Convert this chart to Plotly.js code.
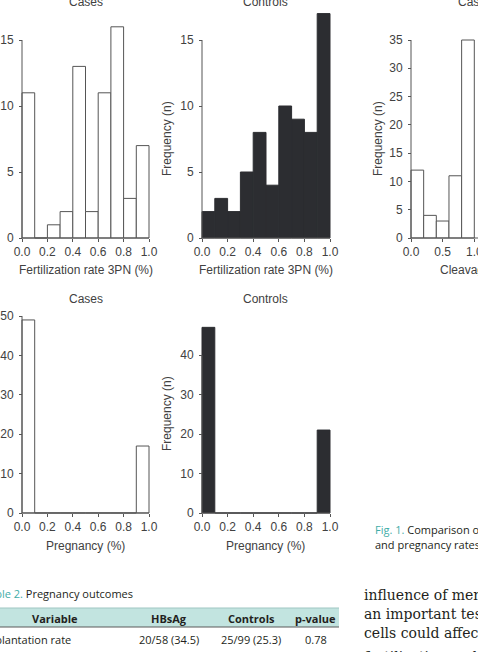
<!DOCTYPE html>
<html>
<head>
<meta charset="utf-8">
<script src="https://cdn.plot.ly/plotly-3.0.1.min.js"></script>
<style>
  html, body { margin: 0; padding: 0; background: #fff; overflow: hidden; width: 478px; height: 652px; }
  #fig { width: 560px; height: 652px; }
</style>
</head>
<body>
<div id="fig"></div>
<script>
// ---- data -------------------------------------------------------------
// bin centres, width 0.1 (fertilization rate and pregnancy)
const tenthBins = [0.05, 0.15, 0.25, 0.35, 0.45, 0.55, 0.65, 0.75, 0.85, 0.95];
// bin centres, width 0.2 (cleavage rate)
const fifthBins = [0.1, 0.3, 0.5, 0.7, 0.9];

const fertCases    = [11, 0, 1, 2, 13, 2, 11, 16, 3, 7];
const fertControls = [2, 3, 2, 5, 8, 4, 10, 9, 8, 17];
const cleavCases   = [12, 4, 3, 11, 35];
const pregCases    = [49, 0, 0, 0, 0, 0, 0, 0, 0, 17];
const pregControls = [47, 0, 0, 0, 0, 0, 0, 0, 0, 21];

const rateTicks     = [0, 0.2, 0.4, 0.6, 0.8, 1.0];
const rateTickText  = ['0.0', '0.2', '0.4', '0.6', '0.8', '1.0'];
const cleavTicks    = [0, 0.5, 1.0, 1.5, 2.0];
const cleavTickText = ['0.0', '0.5', '1.0', '1.5', '2.0'];

const tableHeader = ['Variable', 'HBsAg', 'Controls', 'p-value'];
const tableRow    = ['Implantation rate', '20/58 (34.5)', '25/99 (25.3)', '0.78'];

// ---- page geometry ----------------------------------------------------
const W = 560, H = 652, PAD = 4;
const AX_FONT = 'Liberation Sans, Arial, sans-serif';
const INK = '#414141', LINE = '#555555';
const TEAL = '#3fada8';

const px = v => v / W;
const py = v => 1 - v / H;

const panels = [
  { x: tenthBins, y: fertCases,    w: 0.1, fill: '#ffffff', edge: LINE,
    L: 22,  R: 149,   xmax: 1, y0: 238, ppu: 13.2,     ymax: 18, ytop: 15, ystep: 5,
    ticks: rateTicks, tickText: rateTickText,
    title: 'Cases', titleY: 2, xTitle: 'Fertilization rate 3PN (%)', xTitleY: 270, yTitleX: -14 },
  { x: tenthBins, y: fertControls, w: 0.1, fill: '#2c2d31', edge: '#2c2d31',
    L: 202, R: 330,   xmax: 1, y0: 238, ppu: 13.2,     ymax: 18, ytop: 15, ystep: 5,
    ticks: rateTicks, tickText: rateTickText,
    title: 'Controls', titleY: 2, xTitle: 'Fertilization rate 3PN (%)', xTitleY: 270, yTitleX: 167 },
  { x: fifthBins, y: cleavCases,   w: 0.2, fill: '#ffffff', edge: LINE,
    L: 411, R: 537.6, xmax: 2, y0: 238, ppu: 198 / 35, ymax: 40, ytop: 35, ystep: 5,
    ticks: cleavTicks, tickText: cleavTickText,
    title: 'Cases', titleY: 2, xTitle: 'Cleavage rate (%)', xTitleY: 270, yTitleX: 378 },
  { x: tenthBins, y: pregCases,    w: 0.1, fill: '#ffffff', edge: LINE,
    L: 22,  R: 149,   xmax: 1, y0: 513, ppu: 3.94,     ymax: 54, ytop: 50, ystep: 10,
    ticks: rateTicks, tickText: rateTickText,
    title: 'Cases', titleY: 299, xTitle: 'Pregnancy (%)', xTitleY: 546, yTitleX: -14 },
  { x: tenthBins, y: pregControls, w: 0.1, fill: '#2c2d31', edge: '#2c2d31',
    L: 202, R: 330,   xmax: 1, y0: 513, ppu: 3.95,     ymax: 50, ytop: 40, ystep: 10,
    ticks: rateTicks, tickText: rateTickText,
    title: 'Controls', titleY: 299, xTitle: 'Pregnancy (%)', xTitleY: 546, yTitleX: 167 }
];

const traces = [];
const layout = {
  width: W, height: H,
  margin: { l: 0, r: 0, t: 0, b: 0 },
  paper_bgcolor: '#ffffff', plot_bgcolor: 'rgba(0,0,0,0)',
  showlegend: false,
  annotations: [], shapes: []
};

function ann(text, x, y, opt) {
  opt = opt || {};
  layout.annotations.push(Object.assign({
    xref: 'paper', yref: 'paper', x: px(x), y: py(y),
    xanchor: 'center', yanchor: 'middle', showarrow: false, text: text,
    font: { family: AX_FONT, size: 12, color: INK }
  }, opt));
}

panels.forEach((p, i) => {
  const n = i === 0 ? '' : String(i + 1);
  const xa = 'x' + n, ya = 'y' + n;
  const ppx = (p.R - p.L) / p.xmax;
  const yTop = p.y0 - p.ymax * p.ppu;

  traces.push({
    type: 'bar', x: p.x, y: p.y, width: p.w,
    xaxis: xa, yaxis: ya, hoverinfo: 'skip',
    marker: { color: p.fill, line: { color: p.edge, width: 1 } }
  });
  // axis lines drawn R-style: x from 0 to the last tick, y from 0 to the top tick
  traces.push({
    type: 'scatter', mode: 'lines', xaxis: xa, yaxis: ya, hoverinfo: 'skip',
    x: [0, p.xmax, null, 0, 0], y: [0, 0, null, 0, p.ytop],
    line: { color: LINE, width: 1 }
  });

  const yt = [];
  for (let v = 0; v <= p.ytop; v += p.ystep) yt.push(v);

  layout['xaxis' + n] = {
    domain: [px(p.L - PAD), px(p.R + PAD)],
    range: [-PAD / ppx, p.xmax + PAD / ppx],
    anchor: 'free', position: py(p.y0),
    tickvals: p.ticks, ticktext: p.tickText,
    ticks: 'outside', ticklen: 3, tickwidth: 1, tickcolor: LINE,
    showline: false, showgrid: false, zeroline: false, fixedrange: true,
    tickfont: { family: AX_FONT, size: 12, color: INK }
  };
  layout['yaxis' + n] = {
    domain: [py(p.y0 + PAD), py(yTop)],
    range: [-PAD / p.ppu, p.ymax],
    anchor: 'free', position: px(p.L),
    tickvals: yt, ticks: 'outside', ticklen: 3, tickwidth: 1, tickcolor: LINE,
    ticklabelstandoff: 3,
    showline: false, showgrid: false, zeroline: false, fixedrange: true,
    tickfont: { family: AX_FONT, size: 12, color: INK }
  };

  const cx = (p.L + p.L + 127) / 2;
  ann(p.title, i === 2 ? 475 : cx, p.titleY);
  if (i === 2) ann(p.xTitle, 438, p.xTitleY, { xanchor: 'left' });
  else ann(p.xTitle, cx, p.xTitleY);
  ann('Frequency (n)', p.yTitleX, (p.y0 + p.y0 - 198) / 2, { textangle: -90 });
});

// ---- figure caption ---------------------------------------------------
const SANS = '"Open Sans", "Noto Sans", sans-serif';
const SERIF = '"DejaVu Serif", serif';
const capFont = { family: SANS, size: 11, color: '#231f20' };
ann('<span style="color:' + TEAL + '">Fig. 1.</span> Comparison of fertilization rates,',
    373, 529, { xanchor: 'left', font: capFont });
ann('and pregnancy rates between the groups.',
    373, 544, { xanchor: 'left', font: capFont });

// ---- running text -----------------------------------------------------
[['influence of membrane', 595], ['an important test', 613.8],
 ['cells could affect', 632.6], ['fertilization and', 657]]
  .forEach(([t, y]) => ann(t, 362, y,
    { xanchor: 'left', font: { family: SERIF, size: 14, color: '#231f20' } }));

// ---- Table 2 ----------------------------------------------------------
const tabFont = { family: SANS, size: 11, color: '#231f20' };
ann('<span style="color:' + TEAL + '">Table 2.</span> Pregnancy outcomes', 135, 593,
    { xanchor: 'right', font: tabFont });
layout.shapes.push(
  { type: 'rect', xref: 'paper', yref: 'paper', x0: -0.01, x1: px(339), y0: py(627), y1: py(608),
    fillcolor: '#c2e4e0', line: { width: 0 }, layer: 'below' },
  { type: 'line', xref: 'paper', yref: 'paper', x0: -0.01, x1: px(339), y0: py(608), y1: py(608),
    line: { color: '#9fc6c2', width: 1 } },
  { type: 'line', xref: 'paper', yref: 'paper', x0: -0.01, x1: px(339), y0: py(627), y1: py(627),
    line: { color: '#5a5a5a', width: 1.2 } }
);
const colX = [55, 169, 251, 315];
tableHeader.forEach((t, k) => ann('<b>' + t + '</b>', colX[k], 618, { font: tabFont }));
ann(tableRow[0], 73, 639, { xanchor: 'right', font: tabFont });
tableRow.slice(1).forEach((t, k) => ann(t, [168.5, 250.5, 316][k], 639, { font: tabFont }));

Plotly.newPlot('fig', traces, layout, { staticPlot: true, displayModeBar: false });
</script>
</body>
</html>
